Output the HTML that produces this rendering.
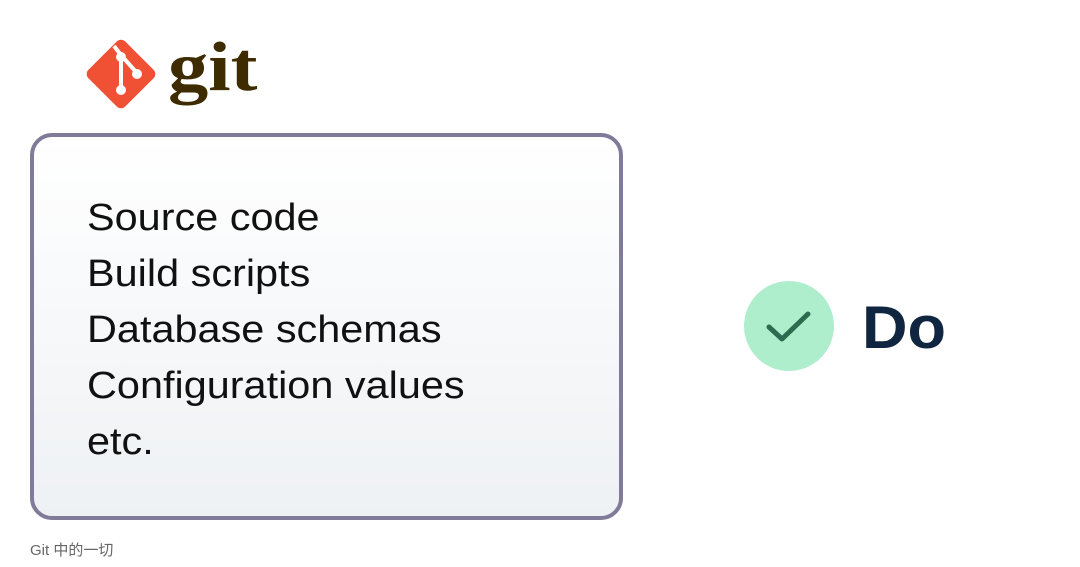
<!DOCTYPE html>
<html><head><meta charset="utf-8"><style>
body{margin:0;width:1080px;height:567px;background:#fff;position:relative;overflow:hidden;font-family:"Liberation Sans","Noto Sans CJK SC",sans-serif}
.box{position:absolute;left:30px;top:133px;width:585px;height:379px;border:4px solid #7f7b98;border-radius:22px;background:linear-gradient(to bottom,#fff,#eef1f4)}
.txt{position:absolute;left:87px;top:190px;font-size:38px;line-height:56px;color:#111;transform:scaleX(1.09);transform-origin:left top;white-space:nowrap}
.do{position:absolute;left:862px;top:290px;font-size:60px;font-weight:bold;color:#0f2540;line-height:76px;transform:scaleX(1.05);transform-origin:left top}
.cap{position:absolute;left:30px;top:539px;font-size:15px;color:#666}
.git{position:absolute;left:168px;top:28px;font-family:"Liberation Serif",serif;font-weight:bold;font-size:70px;color:#3e2c00;line-height:80px;transform:scaleX(1.15);transform-origin:left top}
</style></head><body>
<svg style="position:absolute;left:0;top:0" width="1080" height="567">
<rect x="95" y="48" width="52" height="52" rx="6" fill="#f05033" transform="rotate(45 121 74)"/>
<g stroke="#fff" stroke-width="4" fill="none"><line x1="114" y1="46" x2="121" y2="55"/><line x1="121" y1="55" x2="121" y2="90"/><line x1="121" y1="55" x2="136" y2="72"/></g>
<circle cx="121" cy="57" r="5" fill="#fff"/><circle cx="137" cy="74" r="5" fill="#fff"/><circle cx="121" cy="90" r="5" fill="#fff"/>
<circle cx="789" cy="326" r="45" fill="#aeeecc"/>
<polyline points="769,327 782,339 808,314" stroke="#2d6a4f" stroke-width="5" fill="none" stroke-linecap="round" stroke-linejoin="round"/>
</svg>
<div class="git">git</div>
<div class="box"></div>
<div class="txt">Source code<br>Build scripts<br>Database schemas<br>Configuration values<br>etc.</div>
<div class="do">Do</div>
<div class="cap">Git 中的一切</div>
</body></html>
